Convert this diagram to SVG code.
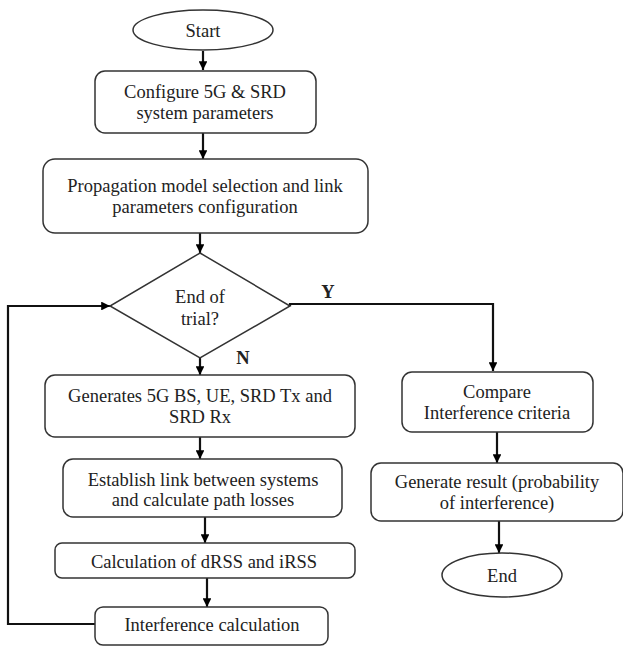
<svg xmlns="http://www.w3.org/2000/svg" width="623" height="646" viewBox="0 0 623 646">
<defs>
<marker id="ah" viewBox="0 0 10 10" refX="10" refY="5" markerWidth="4" markerHeight="4" orient="auto" markerUnits="strokeWidth">
<path d="M0,0 L10,5 L0,10 z" fill="#000"/>
</marker>
<style>
.box{fill:#fff;stroke:#333;stroke-width:1.5}
.t{font-family:"Liberation Serif","Times New Roman",serif;font-size:18.5px;fill:#222;text-anchor:middle}
.b{font-weight:bold}
.c{fill:none;stroke:#111;stroke-width:2.2}
</style>
</defs>
<rect width="623" height="646" fill="#fff"/>
<g id="connectors">
<line class="c" x1="203" y1="51" x2="203" y2="70" marker-end="url(#ah)"/>
<line class="c" x1="203" y1="133" x2="203" y2="159" marker-end="url(#ah)"/>
<line class="c" x1="200" y1="233" x2="200" y2="253" marker-end="url(#ah)"/>
<line class="c" x1="200" y1="358" x2="200" y2="375" marker-end="url(#ah)"/>
<line class="c" x1="200" y1="437" x2="200" y2="459" marker-end="url(#ah)"/>
<line class="c" x1="205" y1="517" x2="205" y2="543" marker-end="url(#ah)"/>
<line class="c" x1="207" y1="578" x2="207" y2="607" marker-end="url(#ah)"/>
<polyline class="c" points="95,624 8,624 8,306 110,306" marker-end="url(#ah)"/>
<polyline class="c" points="290,306 290,304 493,304 493,371" marker-end="url(#ah)"/>
<line class="c" x1="497" y1="432" x2="497" y2="463" marker-end="url(#ah)"/>
<line class="c" x1="499" y1="521" x2="499" y2="553" marker-end="url(#ah)"/>
<text class="t b" x="328" y="298">Y</text>
<text class="t b" x="243" y="364">N</text>
</g>
<g id="start">
<ellipse class="box" cx="203" cy="30" rx="70" ry="20"/>
<text class="t" x="203" y="37">Start</text>
</g>
<g id="configure">
<rect class="box" x="95" y="71" width="221" height="62" rx="10"/>
<text class="t" x="205" y="98">Configure 5G &amp; SRD</text>
<text class="t" x="205" y="119">system parameters</text>
</g>
<g id="propagation">
<rect class="box" x="43" y="159" width="325" height="74" rx="12"/>
<text class="t" x="205" y="192">Propagation model selection and link</text>
<text class="t" x="205" y="213">parameters configuration</text>
</g>
<g id="decision">
<polygon class="box" points="200,253 290,306 200,358 110,306"/>
<text class="t" x="200" y="303">End of</text>
<text class="t" x="200" y="325">trial?</text>
</g>
<g id="generates">
<rect class="box" x="45" y="375" width="310" height="62" rx="10"/>
<text class="t" x="200" y="402">Generates 5G BS, UE, SRD Tx and</text>
<text class="t" x="200" y="423">SRD Rx</text>
</g>
<g id="establish">
<rect class="box" x="63" y="459" width="279" height="58" rx="10"/>
<text class="t" x="203" y="486">Establish link between systems</text>
<text class="t" x="203" y="506">and calculate path losses</text>
</g>
<g id="calc">
<rect class="box" x="55" y="543" width="300" height="35" rx="7"/>
<text class="t" x="204" y="568">Calculation of dRSS and iRSS</text>
</g>
<g id="interference">
<rect class="box" x="95" y="607" width="233" height="38" rx="8"/>
<text class="t" x="212" y="631">Interference calculation</text>
</g>
<g id="compare">
<rect class="box" x="402" y="372" width="191" height="60" rx="10"/>
<text class="t" x="497" y="398">Compare</text>
<text class="t" x="497" y="419">Interference criteria</text>
</g>
<g id="result">
<rect class="box" x="371" y="463" width="252" height="58" rx="10"/>
<text class="t" x="497" y="488">Generate result (probability</text>
<text class="t" x="497" y="509">of interference)</text>
</g>
<g id="end">
<ellipse class="box" cx="502" cy="575" rx="60" ry="22"/>
<text class="t" x="502" y="582">End</text>
</g>
</svg>
